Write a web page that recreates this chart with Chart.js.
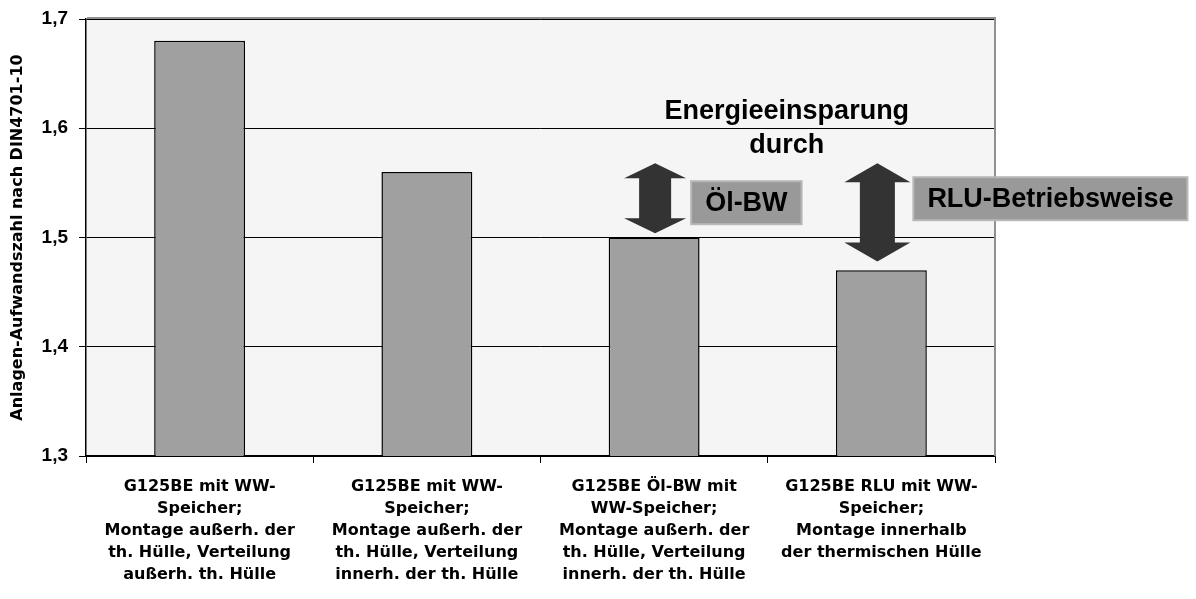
<!DOCTYPE html>
<html>
<head>
<meta charset="utf-8">
<script src="https://cdn.jsdelivr.net/npm/chart.js@4"></script>
<style>
  html, body { margin: 0; padding: 0; background: #fff; }
  #wrap { width: 1196px; height: 599px; }
</style>
</head>
<body>
<div id="wrap"><canvas id="chart"></canvas></div>
<script>
const categories = [
  ['G125BE mit WW-', 'Speicher;', 'Montage außerh. der', 'th. Hülle, Verteilung', 'außerh. th. Hülle'],
  ['G125BE mit WW-', 'Speicher;', 'Montage außerh. der', 'th. Hülle, Verteilung', 'innerh. der th. Hülle'],
  ['G125BE Öl-BW mit', 'WW-Speicher;', 'Montage außerh. der', 'th. Hülle, Verteilung', 'innerh. der th. Hülle'],
  ['G125BE RLU mit WW-', 'Speicher;', 'Montage innerhalb', 'der thermischen Hülle']
];
const values = [1.68, 1.56, 1.50, 1.47];
const yTicks = [1.3, 1.4, 1.5, 1.6, 1.7];

// savings arrows: which bar, from which value down to which value
const arrowBars = [2, 3];
const arrowFrom = [1.568, 1.568];
const arrowTo = [1.504, 1.478];
const arrowLabels = ['Öl-BW', 'RLU-Betriebsweise'];
const noteLines = ['Energieeinsparung', 'durch'];

const bigFont = 'bold 27px "Liberation Sans", Arial, sans-serif';

function drawArrow(ctx, x, yTop, yBot, headW, shaftW, headH) {
  ctx.beginPath();
  ctx.moveTo(x, yTop);
  ctx.lineTo(x + headW / 2, yTop + headH);
  ctx.lineTo(x + shaftW / 2, yTop + headH);
  ctx.lineTo(x + shaftW / 2, yBot - headH);
  ctx.lineTo(x + headW / 2, yBot - headH);
  ctx.lineTo(x, yBot);
  ctx.lineTo(x - headW / 2, yBot - headH);
  ctx.lineTo(x - shaftW / 2, yBot - headH);
  ctx.lineTo(x - shaftW / 2, yTop + headH);
  ctx.lineTo(x - headW / 2, yTop + headH);
  ctx.closePath();
  ctx.fill();
}

const savingsPlugin = {
  id: 'savings',
  beforeDraw(chart) {
    const { ctx, chartArea: a } = chart;
    ctx.save();
    ctx.fillStyle = '#f5f5f5';
    ctx.fillRect(a.left, a.top, a.right - a.left, a.bottom - a.top);
    ctx.restore();
  },
  afterDraw(chart) {
    const { ctx, chartArea: a } = chart;
    const xs = chart.scales.x, ys = chart.scales.y;
    ctx.save();
    // grey frame top / right
    ctx.strokeStyle = '#909090';
    ctx.lineWidth = 2;
    ctx.beginPath();
    ctx.moveTo(a.left + 1, a.top - 1);
    ctx.lineTo(a.right, a.top - 1);
    ctx.lineTo(a.right, a.bottom);
    ctx.stroke();

    // heading text
    ctx.fillStyle = '#000';
    ctx.font = bigFont;
    ctx.textAlign = 'center';
    ctx.textBaseline = 'alphabetic';
    const tx = a.left + (a.right - a.left) * 0.771;
    const ty = ys.getPixelForValue(1.6) - 9;
    noteLines.forEach((t, i) => ctx.fillText(t, tx, ty + i * 34));

    // arrows + label boxes
    arrowBars.forEach((b, i) => {
      const x = xs.getPixelForValue(b) + (i === 1 ? -4 : 1);
      const y1 = ys.getPixelForValue(arrowFrom[i]);
      const y2 = ys.getPixelForValue(arrowTo[i]);
      ctx.fillStyle = '#333333';
      drawArrow(ctx, x, y1, y2, i === 0 ? 62 : 66, i === 0 ? 32 : 35, i === 0 ? 15 : 19);

      ctx.font = bigFont;
      const w = ctx.measureText(arrowLabels[i]).width + 28;
      const bx = x + 36, by = y1 + (i === 0 ? 18 : 14), bh = 43;
      ctx.fillStyle = '#999999';
      ctx.fillRect(bx, by, w, bh);
      ctx.strokeStyle = '#b8b8b8';
      ctx.lineWidth = 2;
      ctx.strokeRect(bx, by, w, bh);
      ctx.fillStyle = '#000';
      ctx.textAlign = 'left';
      ctx.textBaseline = 'middle';
      ctx.fillText(arrowLabels[i], bx + 14, by + bh / 2 + 1);
    });
    ctx.restore();
  }
};

const ctx = document.getElementById('chart').getContext('2d');
new Chart(ctx, {
  type: 'bar',
  data: {
    labels: categories,
    datasets: [{
      data: values,
      backgroundColor: '#a0a0a0',
      borderColor: '#000',
      borderWidth: 1.5,
      barPercentage: 0.4,
      categoryPercentage: 1.0
    }]
  },
  options: {
    responsive: true,
    maintainAspectRatio: false,
    animation: false,
    layout: { padding: { top: 19, right: 201, left: 0, bottom: 0 } },
    plugins: {
      legend: { display: false },
      tooltip: { enabled: false }
    },
    scales: {
      x: {
        offset: true,
        afterFit(scale) { scale.height = 143; },
        grid: { drawOnChartArea: false, drawTicks: true, tickLength: 7, color: '#000', lineWidth: 1 },
        border: { color: '#000', width: 1.5 },
        ticks: {
          color: '#000',
          padding: 13,
          maxRotation: 0,
          autoSkip: false,
          font: { family: '"DejaVu Sans", sans-serif', weight: 'bold', size: 16, lineHeight: '22px' }
        }
      },
      y: {
        min: 1.3,
        max: 1.7,
        afterFit(scale) {
          scale.width = 86;
          scale.paddingTop = 0;
          scale.paddingBottom = 0;
        },
        afterBuildTicks(scale) { scale.ticks = yTicks.map(v => ({ value: v })); },
        grid: { color: '#000', lineWidth: 1, tickLength: 7 },
        border: { color: '#000', width: 1.5 },
        title: {
          display: true,
          text: 'Anlagen-Aufwandszahl nach DIN4701-10',
          color: '#000',
          padding: { top: 8, bottom: 0 },
          font: { family: '"DejaVu Sans", sans-serif', weight: 'bold', size: 16 }
        },
        ticks: {
          color: '#000',
          padding: 11,
          callback: v => v.toFixed(1).replace('.', ','),
          font: { family: '"Liberation Sans", Arial, sans-serif', weight: 'bold', size: 19 }
        }
      }
    }
  },
  plugins: [savingsPlugin]
});
</script>
</body>
</html>
